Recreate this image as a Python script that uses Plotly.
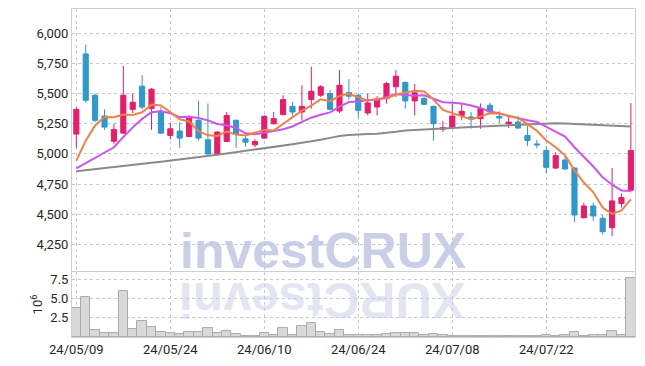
import plotly.graph_objects as go

dates = ["24/05/09", "24/05/10", "24/05/13", "24/05/14", "24/05/16", "24/05/17", "24/05/20", "24/05/21",
         "24/05/22", "24/05/23", "24/05/24", "24/05/27", "24/05/28", "24/05/29", "24/05/30", "24/05/31",
         "24/06/03", "24/06/04", "24/06/05", "24/06/07", "24/06/10", "24/06/11", "24/06/12", "24/06/13",
         "24/06/14", "24/06/17", "24/06/18", "24/06/19", "24/06/20", "24/06/21", "24/06/24", "24/06/25",
         "24/06/26", "24/06/27", "24/06/28", "24/07/01", "24/07/02", "24/07/03", "24/07/04", "24/07/05",
         "24/07/08", "24/07/09", "24/07/10", "24/07/11", "24/07/12", "24/07/15", "24/07/16", "24/07/17",
         "24/07/18", "24/07/19", "24/07/22", "24/07/23", "24/07/24", "24/07/25", "24/07/26", "24/07/29",
         "24/07/30", "24/07/31", "24/08/01", "24/08/02"]

opens = [5164, 5828, 5486, 5314, 5105, 5172, 5369, 5561, 5375, 5355,
         5153, 5189, 5144, 5278, 5117, 5000, 5103, 5278, 5125, 5075,
         5131, 5250, 5325, 5394, 5347, 5450, 5486, 5500, 5355, 5508,
         5486, 5339, 5389, 5458, 5556, 5592, 5439, 5458, 5394, 5206,
         5217, 5319, 5306, 5292, 5403, 5311, 5250, 5264, 5153, 5083,
         5028, 4883, 4950, 4883, 4472, 4569, 4467, 4389, 4589, 4700]
highs = [5388, 5903, 5500, 5369, 5250, 5728, 5500, 5653, 5545, 5388,
         5258, 5264, 5319, 5439, 5417, 5189, 5347, 5286, 5161, 5125,
         5320, 5347, 5486, 5431, 5569, 5722, 5569, 5528, 5694, 5619,
         5500, 5500, 5478, 5597, 5694, 5600, 5578, 5472, 5400, 5272,
         5417, 5422, 5347, 5417, 5425, 5353, 5306, 5314, 5236, 5117,
         5064, 5014, 4986, 4890, 4597, 4597, 4494, 4883, 4672, 5422]
lows = [5050, 5425, 5264, 5200, 5083, 5167, 5339, 5369, 5200, 5167,
        5119, 5050, 5139, 5111, 4992, 4992, 5097, 5050, 5061, 5055,
        5125, 5242, 5319, 5319, 5278, 5375, 5472, 5364, 5340, 5450,
        5300, 5319, 5319, 5417, 5472, 5375, 5319, 5403, 5111, 5181,
        5210, 5278, 5208, 5208, 5333, 5256, 5214, 5210, 5064, 5047,
        4842, 4875, 4867, 4436, 4465, 4444, 4333, 4319, 4556, 4681]
closes = [5369, 5444, 5278, 5222, 5203, 5486, 5428, 5388, 5536, 5172,
          5208, 5131, 5300, 5131, 5000, 5181, 5319, 5167, 5097, 5103,
          5311, 5292, 5450, 5347, 5394, 5519, 5556, 5369, 5569, 5478,
          5361, 5422, 5450, 5583, 5644, 5439, 5506, 5411, 5250, 5217,
          5314, 5353, 5297, 5375, 5347, 5297, 5264, 5214, 5111, 5075,
          4889, 4986, 4875, 4494, 4569, 4486, 4356, 4611, 4639, 5028]

ma5 = [4945, 5110, 5236, 5305, 5303, 5327, 5323, 5345, 5408, 5402,
       5346, 5287, 5269, 5188, 5154, 5149, 5186, 5160, 5153, 5173,
       5199, 5194, 5251, 5301, 5359, 5400, 5453, 5437, 5481, 5498,
       5467, 5440, 5456, 5459, 5492, 5508, 5524, 5517, 5450, 5365,
       5340, 5309, 5286, 5311, 5337, 5334, 5316, 5299, 5247, 5192,
       5111, 5055, 4987, 4864, 4763, 4682, 4556, 4503, 4532, 4624]
ma10 = [4880, 4925, 4970, 5012, 5055, 5140, 5220, 5290, 5345, 5353,
        5337, 5305, 5307, 5298, 5278, 5248, 5237, 5215, 5171, 5164,
        5174, 5190, 5205, 5227, 5266, 5300, 5324, 5344, 5391, 5429,
        5434, 5447, 5447, 5470, 5495, 5487, 5482, 5486, 5454, 5428,
        5424, 5417, 5401, 5381, 5351, 5337, 5313, 5293, 5279, 5265,
        5222, 5186, 5143, 5055, 4977, 4896, 4806, 4745, 4698, 4693]
ma_long = [4856, 4864, 4873, 4882, 4891, 4900, 4909, 4917, 4926, 4935,
           4944, 4954, 4964, 4974, 4984, 4994, 5004, 5014, 5024, 5034,
           5044, 5056, 5068, 5080, 5092, 5103, 5118, 5133, 5149, 5157,
           5164, 5166, 5168, 5174, 5184, 5194, 5199, 5203, 5207, 5211,
           5215, 5219, 5223, 5227, 5232, 5236, 5240, 5244, 5248, 5252,
           5256, 5254, 5251, 5248, 5245, 5243, 5240, 5236, 5232, 5228]

vol_millions = [3.76, 5.18, 0.95, 0.52, 0.52, 6.00, 1.08, 2.12, 1.30, 0.69,
                0.56, 0.43, 0.65, 0.65, 1.17, 0.56, 0.82, 0.43, 0.17, 0.13,
                0.56, 0.30, 1.17, 0.30, 1.47, 1.81, 0.69, 0.35, 0.95, 0.30,
                0.22, 0.20, 0.20, 0.43, 0.56, 0.50, 0.45, 0.30, 0.35, 0.22,
                0.15, 0.15, 0.10, 0.12, 0.12, 0.12, 0.10, 0.12, 0.10, 0.12,
                0.25, 0.12, 0.30, 0.65, 0.15, 0.25, 0.25, 0.82, 0.25, 7.64]

price_ticks = [4250, 4500, 4750, 5000, 5250, 5500, 5750, 6000]
vol_ticks = [2.5, 5.0, 7.5]
date_ticks = [dates[i] for i in range(0, 60, 10)]

UP = "#e21f6c"
DOWN = "#3198c9"
GRID = "#c3c7da"
FONT = dict(family="Roboto", size=13, color="#262626")

fig = go.Figure()

fig.add_trace(go.Bar(x=dates, y=vol_millions, marker=dict(color="#d9d9d9", line=dict(color="#ababab", width=1)),
                     xaxis="x2", yaxis="y2", hoverinfo="skip"))

fig.add_trace(go.Scatter(x=dates, y=ma_long, mode="lines", line=dict(color="#8a8a8a", width=2)))
fig.add_trace(go.Scatter(x=dates, y=ma10, mode="lines", line=dict(color="#cc55ee", width=2)))
fig.add_trace(go.Scatter(x=dates, y=ma5, mode="lines", line=dict(color="#f08048", width=2)))

fig.add_trace(go.Candlestick(
    x=dates, open=opens, high=highs, low=lows, close=closes,
    increasing=dict(line=dict(color=UP, width=1), fillcolor=UP),
    decreasing=dict(line=dict(color=DOWN, width=1), fillcolor=DOWN),
    whiskerwidth=0))

axis_common = dict(showline=True, linecolor="#cfcfcf", linewidth=1, mirror=True,
                   gridcolor=GRID, griddash="dot", gridwidth=1, zeroline=False,
                   tickfont=FONT, ticks="", automargin=False)

# the page body keeps an 8px margin, so the figure is sized 8px smaller
fig.update_layout(
    width=637, height=358,
    margin=dict(l=64, r=10, t=1, b=29, autoexpand=False),
    paper_bgcolor="white", plot_bgcolor="white",
    showlegend=False,
    bargap=0,
    boxgap=0.22,
    xaxis=dict(type="category", range=[-0.46, 59.44], domain=[0, 1], anchor="y",
               tickvals=date_ticks, showticklabels=False, rangeslider=dict(visible=False),
               **axis_common),
    yaxis=dict(domain=[0.201, 1], range=[4030, 6200], tickvals=price_ticks, tickformat=",d",
               anchor="x", **axis_common),
    xaxis2=dict(type="category", range=[-0.46, 59.44], domain=[0, 1], anchor="y2",
                tickvals=date_ticks, ticktext=date_ticks, **axis_common),
    yaxis2=dict(domain=[0, 0.198], range=[0, 8.46], tickvals=vol_ticks, tickformat=".1f",
                anchor="x2", title=dict(text="10<sup>6</sup>", font=FONT, standoff=4), **axis_common),
)

fig.add_annotation(text="<b>investCRUX</b>", xref="paper", yref="paper", x=0.445, y=0.262,
                   xanchor="center", yanchor="middle", showarrow=False,
                   font=dict(family="Liberation Sans", size=50, color="rgba(188,196,226,0.82)"))
fig.add_annotation(text="<b>XURCtsevni</b>", xref="paper", yref="paper", x=0.445, y=0.115,
                   xanchor="center", yanchor="middle", showarrow=False, textangle=180,
                   font=dict(family="Liberation Sans", size=50, color="rgba(200,206,230,0.5)"))

fig.write_html("out.html")
